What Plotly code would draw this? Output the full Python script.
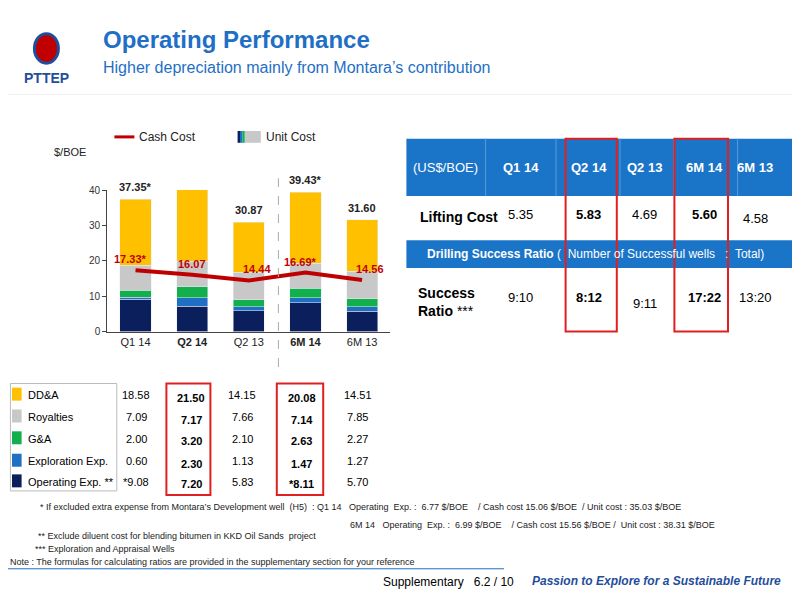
import plotly.graph_objects as go

periods = ['Q1 14', 'Q2 14', 'Q2 13', '6M 14', '6M 13']
tick_text = ['Q1 14', '<b>Q2 14</b>', 'Q2 13', '<b>6M 14</b>', '6M 13']
opex = [9.08, 7.20, 5.83, 8.11, 5.70]
explo = [0.60, 2.30, 1.13, 1.47, 1.27]
ga = [2.00, 3.20, 2.10, 2.63, 2.27]
royal = [7.09, 7.17, 7.66, 7.14, 7.85]
dda = [18.58, 21.50, 14.15, 20.08, 14.51]
unit_cost = ['37.35*', '41.37', '30.87', '39.43*', '31.60']
unit_total = [37.35, 41.37, 30.87, 39.43, 31.60]
cash_cost = [17.33, 16.07, 14.44, 16.69, 14.56]
cash_lbl = ['17.33*', '16.07', '14.44', '16.69*', '14.56']

opex_lbl = ['*9.08', '7.20', '5.83', '*8.11', '5.70']
comp_names = ['DD&A', 'Royalties', 'G&A', 'Exploration Exp.', 'Operating Exp. **']
comp_cols = ['#FFC000', '#C8C8C8', '#12B04C', '#1F6FC5', '#0B1F5C']

lifting = ['5.35', '5.83', '4.69', '5.60', '4.58']
success = ['9:10', '8:12', '9:11', '17:22', '13:20']

fig = go.Figure()
for vals, name, col in zip([opex, explo, ga, royal, dda], comp_names[::-1], comp_cols[::-1]):
    fig.add_trace(go.Bar(x=periods, y=vals, marker_color=col, width=0.55,
                         showlegend=False, name=name))
fig.add_trace(go.Scatter(x=periods, y=cash_cost, mode='lines', line=dict(color='#C00000', width=4),
                         showlegend=False))
for p, t, v in zip(periods, unit_cost, unit_total):
    fig.add_annotation(x=p, y=v, text='<b>%s</b>' % t, showarrow=False, yshift=12,
                       font=dict(size=11, color='#222'))
for i, (p, t, v) in enumerate(zip(periods, cash_lbl, cash_cost)):
    fig.add_annotation(x=p, y=v, text='<b>%s</b>' % t, showarrow=False, yshift=11,
                       xshift=[-5, 0, 8, -5, 8][i], font=dict(size=11, color='#C00000'))

fig.update_layout(
    width=800, height=600, barmode='stack', plot_bgcolor='white', paper_bgcolor='white',
    margin=dict(l=0, r=0, t=0, b=0), font=dict(family='Arial, Liberation Sans', color='#222'),
    xaxis=dict(domain=[0.124, 0.478], tickvals=periods, ticktext=tick_text, showline=True,
               linecolor='#444', ticks='', tickfont=dict(size=11)),
    yaxis=dict(domain=[0.46, 0.70], range=[0, 40], tickvals=[0, 10, 20, 30, 40],
               showline=True, linecolor='#444', ticks='outside', ticklen=4, showgrid=False,
               tickfont=dict(size=10, color='#333')),
)


def A(x, y, text, xanchor='center', yanchor='middle', size=11, color='#222', **kw):
    fig.add_annotation(xref='paper', yref='paper', x=x, y=y, text=text, showarrow=False,
                       xanchor=xanchor, yanchor=yanchor, font=dict(size=size, color=color), **kw)


def S(**kw):
    fig.add_shape(xref='paper', yref='paper', **kw)


# dashed divider
S(type='line', x0=0.338, x1=0.338, y0=0.4, y1=0.72, line=dict(color='#AAA', width=1, dash='dash'))
A(0.078, 0.765, '$/BOE')
# legend
S(type='line', x0=0.133, x1=0.158, y0=0.79, y1=0.79, line=dict(color='#C00000', width=3))
A(0.161, 0.79, 'Cash Cost', xanchor='left', size=12)
for i, c in enumerate(['#0B1F5C', '#1F6FC5', '#12B04C']):
    S(type='rect', x0=0.287 + i * 0.003, x1=0.290 + i * 0.003, y0=0.78, y1=0.80, fillcolor=c, line_width=0)
S(type='rect', x0=0.296, x1=0.316, y0=0.78, y1=0.80, fillcolor='#C8C8C8', line_width=0)
A(0.32, 0.79, 'Unit Cost', xanchor='left', size=12)

# title
A(0.116, 0.955, '<b>Operating Performance</b>', xanchor='left', size=24, color='#1F6FC5')
A(0.116, 0.908, 'Higher depreciation mainly from Montara’s contribution', xanchor='left', size=16, color='#1F6FC5')
# logo
S(type='circle', x0=0.033, x1=0.063, y0=0.915, y1=0.965, fillcolor='#C00000', line=dict(color='#1F4E9C', width=3))
A(0.048, 0.89, '<b>PTTEP</b>', size=14, color='#1F4E9C')
S(type='line', x0=0.0, x1=1.0, y0=0.862, y1=0.862, line=dict(color='#EEE', width=1))

# right table
cx = [0.547, 0.641, 0.726, 0.796, 0.870, 0.934]
hdr = ['(US$/BOE)', 'Q1 14', 'Q2 14', 'Q2 13', '6M 14', '6M 13']
S(type='rect', x0=0.498, x1=0.99, y0=0.69, y1=0.787, fillcolor='#1A74C8', line_width=0)
S(type='rect', x0=0.498, x1=0.99, y0=0.568, y1=0.615, fillcolor='#1A74C8', line_width=0)
for x in [0.597, 0.685, 0.765, 0.832, 0.912]:
    S(type='line', x0=x, x1=x, y0=0.69, y1=0.787, line=dict(color='#5A9BDA', width=1))
for i, (x, h) in enumerate(zip(cx, hdr)):
    A(x, 0.738, h if i == 0 else '<b>%s</b>' % h, size=13, color='white')
A(0.512, 0.655, '<b>Lifting Cost</b>', xanchor='left', size=14, color='black')
for i, (x, v) in enumerate(zip(cx[1:], lifting)):
    A(x, 0.658 if i < 4 else 0.652, '<b>%s</b>' % v if i in (1, 3) else v, size=13, color='black')
A(0.734, 0.591, '<b>Drilling Success Ratio</b> (  Number of Successful wells   :  Total)', size=12, color='white')
A(0.51, 0.51, '<b>Success<br>Ratio</b> ***', xanchor='left', size=14, color='black', align='left')
for i, (x, v) in enumerate(zip(cx[1:], success)):
    A(x, [0.518, 0.518, 0.508, 0.518, 0.518][i], '<b>%s</b>' % v if i in (1, 3) else v, size=13, color='black')
for x0, x1 in [(0.697, 0.761), (0.833, 0.900)]:
    S(type='rect', x0=x0, x1=x1, y0=0.46, y1=0.787, line=dict(color='#E02020', width=2))

# bottom component table
S(type='rect', x0=0.003, x1=0.136, y0=0.19, y1=0.372, line=dict(color='#BBB', width=1))
ry = [0.352, 0.315, 0.278, 0.24, 0.205]
bx = [0.16, 0.229, 0.293, 0.367, 0.437]
rows = [dda, royal, ga, explo, opex_lbl]
for name, col, y, vals in zip(comp_names, comp_cols, ry, rows):
    S(type='rect', x0=0.005, x1=0.017, y0=y - 0.009, y1=y + 0.013, fillcolor=col, line_width=0)
    A(0.022, y, name, xanchor='left', size=11, color='black')
    for j, (x, v) in enumerate(zip(bx, vals)):
        t = v if isinstance(v, str) else '%.2f' % v
        A(x, y + (-0.004 if j in (1, 3) else 0), '<b>%s</b>' % t if j in (1, 3) else t, size=11, color='black')
for x0, x1 in [(0.198, 0.253), (0.336, 0.394)]:
    S(type='rect', x0=x0, x1=x1, y0=0.183, y1=0.372, line=dict(color='#E02020', width=2))

# footnotes
A(0.038, 0.163, '* If excluded extra expense from Montara’s Development well  (H5)  : Q1 14   Operating  Exp. :  6.77 $/BOE    / Cash cost 15.06 $/BOE  / Unit cost : 35.03 $/BOE', xanchor='left', size=9)
A(0.425, 0.133, '6M 14   Operating  Exp. :  6.99 $/BOE    / Cash cost 15.56 $/BOE /  Unit cost : 38.31 $/BOE', xanchor='left', size=9)
A(0.035, 0.113, '** Exclude diluent cost for blending bitumen in KKD Oil Sands  project', xanchor='left', size=9)
A(0.031, 0.092, '*** Exploration and Appraisal Wells', xanchor='left', size=9)
A(0.0, 0.07, 'Note : The formulas for calculating ratios are provided in the supplementary section for your reference', xanchor='left', size=9)
S(type='line', x0=0, x1=0.62, y0=0.058, y1=0.058, line=dict(color='#1F6FC5', width=1))
A(0.55, 0.035, 'Supplementary   6.2 / 10', size=12, color='black')
A(0.81, 0.037, '<b><i>Passion to Explore for a Sustainable Future</i></b>', size=12, color='#1F4E9C')

fig.write_html("out.html")
